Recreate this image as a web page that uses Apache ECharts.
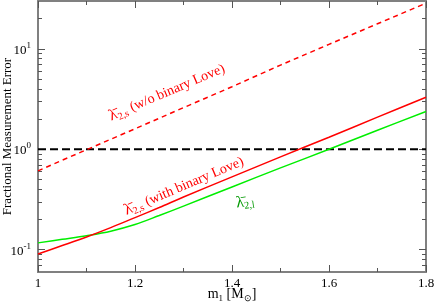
<!DOCTYPE html>
<html><head><meta charset="utf-8">
<script src="https://cdn.jsdelivr.net/npm/echarts@6/dist/echarts.min.js"></script>
<style>html,body{margin:0;padding:0;background:#fff}#c{width:436px;height:306px}</style>
</head><body><div id="c"></div>
<script>
// ---- data ----
const masses = [1.0, 1.05, 1.1, 1.15, 1.2, 1.25, 1.3, 1.4, 1.5, 1.6, 1.7, 1.8];
const errNoBinaryLove   = [0.61, 0.78, 0.99, 1.26, 1.6, 2.04, 2.6, 4.2, 6.9, 11.1, 17.8, 28.5];
const errWithBinaryLove = [0.0906, 0.110, 0.134, 0.166, 0.209, 0.263, 0.335, 0.531, 0.841, 1.32, 2.09, 3.30];
const errLambdaL        = [0.117, 0.127, 0.138, 0.153, 0.178, 0.219, 0.272, 0.422, 0.653, 1.0, 1.55, 2.38];
const thresholdMasses = [1.0, 1.8];
const thresholdValues = [1, 1];
const xTickLabels = ['1', '1.2', '1.4', '1.6', '1.8'];
const yMajorTicks = [0.1, 1, 10];
const yMajorExp = ['-1', '0', '1'];
const yMinorTicks = [0.07, 0.08, 0.09, 0.2, 0.3, 0.4, 0.5, 0.6, 0.7, 0.8, 0.9, 2, 3, 4, 5, 6, 7, 8, 9, 20];

const FONT = 'Liberation Serif';
const AX = '#808080';
const TK = '#555';

const pair = (xs, ys) => xs.map((x, i) => [x, ys[i]]);

function xAxisDef(pos, labels) {
  return {
    type: 'value', position: pos, min: 1, max: 1.8, interval: 0.2,
    axisLine: { show: true, onZero: false, lineStyle: { color: AX, width: 2 } },
    axisTick: { show: true, inside: true, length: 7, lineStyle: { color: TK, width: 1 } },
    minorTick: { show: true, splitNumber: 2, length: 4, lineStyle: { color: TK, width: 1 } },
    splitLine: { show: false }, minorSplitLine: { show: false },
    axisLabel: labels ? {
      show: true, margin: 5, fontFamily: FONT, fontSize: 13, color: '#000',
      formatter: v => xTickLabels[Math.round((v - 1) / 0.2)] ?? ''
    } : { show: false },
    name: labels ? '{n|m}{s|1}{n| [M}{s|\u2299}{n|]}' : '',
    nameLocation: 'middle', nameGap: 13, nameMoveOverlap: false,
    nameTextStyle: {
      fontFamily: FONT, color: '#000',
      rich: {
        n: { fontFamily: FONT, fontSize: 14, color: '#000', lineHeight: 18, verticalAlign: 'middle' },
        s: { fontFamily: FONT, fontSize: 9, color: '#000', lineHeight: 10, verticalAlign: 'bottom' }
      }
    }
  };
}

function yAxisDef(pos, ticks, len, labels) {
  return {
    type: 'log', logBase: 10, position: pos, min: 0.06, max: 30,
    axisLine: { show: true, onZero: false, lineStyle: { color: AX, width: 2 } },
    axisTick: { show: true, inside: true, length: len, customValues: ticks, lineStyle: { color: TK, width: 1 } },
    minorTick: { show: false },
    splitLine: { show: false },
    axisLabel: labels ? {
      show: true, margin: 7, customValues: yMajorTicks,
      formatter: v => {
        const i = yMajorTicks.findIndex(t => Math.abs(t - v) / t < 1e-6);
        return '{b|10}{e|' + (i >= 0 ? yMajorExp[i] : '') + '}';
      },
      rich: {
        b: { fontFamily: FONT, fontSize: 13, color: '#000', lineHeight: 16, verticalAlign: 'bottom' },
        e: { fontFamily: FONT, fontSize: 9, color: '#000', lineHeight: 10, verticalAlign: 'top' }
      }
    } : { show: false },
    name: labels ? 'Fractional Measurement Error' : '',
    nameLocation: 'middle', nameGap: 24, nameMoveOverlap: false,
    nameTextStyle: { fontFamily: FONT, fontSize: 13, color: '#000' }
  };
}

const option = {
  animation: false,
  backgroundColor: '#fff',
  grid: { left: 38, right: 10, top: 1, bottom: 34, containLabel: false, outerBoundsMode: 'none' },
  xAxis: [xAxisDef('bottom', true), xAxisDef('top', false)],
  yAxis: [
    yAxisDef('left', yMajorTicks, 7, true),
    yAxisDef('left', yMinorTicks, 4, false),
    yAxisDef('right', yMajorTicks, 7, false),
    yAxisDef('right', yMinorTicks, 4, false)
  ],
  series: [
    { type: 'line', data: pair(thresholdMasses, thresholdValues), symbol: 'none', silent: true,
      lineStyle: { color: '#000', width: 2, type: [8, 4] } },
    { type: 'line', data: pair(masses, errNoBinaryLove), symbol: 'none', silent: true,
      lineStyle: { color: '#ff0000', width: 1.5, type: [5, 4] } },
    { type: 'line', data: pair(masses, errLambdaL), symbol: 'none', silent: true, smooth: 0.35,
      lineStyle: { color: '#00ee00', width: 1.5 } },
    { type: 'line', data: pair(masses, errWithBinaryLove), symbol: 'none', silent: true, smooth: 0.3,
      lineStyle: { color: '#ff0000', width: 1.5 } }
  ]
};

const chart = echarts.init(document.getElementById('c'), null, { renderer: 'canvas' });
chart.setOption(option);

// annotation placement in data coordinates
const annotations = [
  { main: '\u03bb\u0304', sub: '2,s', tail: ' (w/o binary Love)', m: 1.266, v: 3.68, rot: 23, color: '#ff0000' },
  { main: '\u03bb\u0304', sub: '2,s', tail: ' (with binary Love)', m: 1.301, v: 0.43, rot: 23, color: '#ff0000' },
  { main: '\u03bb\u0304', sub: '2,l', tail: '', m: 1.427, v: 0.298, rot: 8, color: '#009900' }
];
const graphics = annotations.map(a => {
  const p = chart.convertToPixel({ xAxisIndex: 0, yAxisIndex: 0 }, [a.m, a.v]);
  return {
    type: 'text', x: p[0], y: p[1], rotation: a.rot * Math.PI / 180, silent: true,
    style: {
      text: '{l|' + a.main + '}{s|' + a.sub + '}' + (a.tail ? '{t|' + a.tail + '}' : ''),
      fill: a.color, align: 'center', verticalAlign: 'middle',
      rich: {
        l: { fontFamily: FONT, fontSize: 16, fill: a.color, lineHeight: 18, verticalAlign: 'middle' },
        s: { fontFamily: FONT, fontSize: 10, fill: a.color, lineHeight: 10, verticalAlign: 'bottom' },
        t: { fontFamily: FONT, fontSize: 14, fill: a.color, lineHeight: 18, verticalAlign: 'middle' }
      }
    }
  };
});
chart.setOption({ graphic: graphics });
</script>
</body></html>
